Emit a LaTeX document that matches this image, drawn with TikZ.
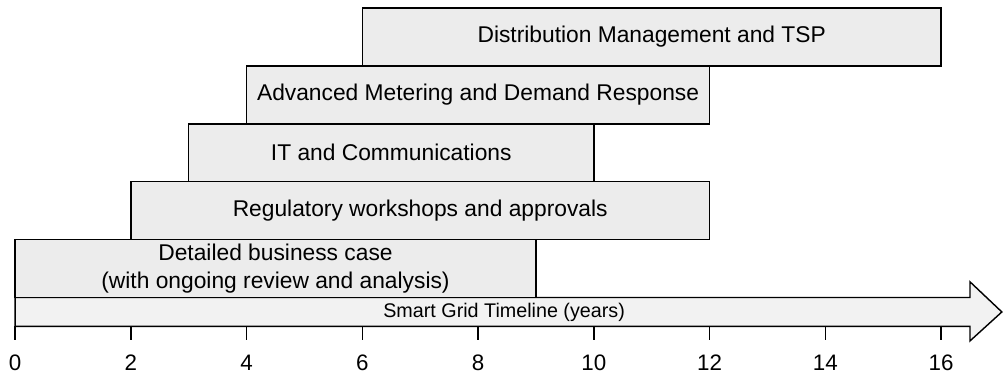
\documentclass[tikz,border=0pt]{standalone}
\usepackage{fontspec}
\setmainfont{Liberation Sans}
\tikzset{
	bar/.style={draw=black, fill=gray!15, line width=0.7pt, rectangle, minimum height=1cm, inner sep=0pt, font=\fontsize{11.2}{13.5}\selectfont, align=center},
	tick/.style={black, line width=0.7pt},
	year/.style={anchor=north, inner sep=0pt, yshift=-0.25cm, font=\fontsize{11}{13}\selectfont}
}
\begin{document}
\begin{tikzpicture}
		\useasboundingbox (-0.26,-0.8) rectangle (17.07,5.64);
		\filldraw[fill=gray!10, draw=black, line width=0.7pt] (0,0) -- (16.5,0) -- (16.5,-0.25) -- (17.05,0.25) -- (16.5,0.77) -- (16.5,0.5) -- (0,0.5) -- cycle;
		\node[font=\fontsize{9.7}{11}\selectfont] (timeline) at (8.45,0.25) {Smart Grid Timeline (years)};
		\node[bar, minimum width=9cm] (case) at (4.5,1) {Detailed business case\\(with ongoing review and analysis)};
		\node[bar, minimum width=10cm] (reg) at (7,2) {Regulatory workshops and approvals};
		\node[bar, minimum width=7cm] (it) at (6.5,3) {IT and Communications};
		\node[bar, minimum width=8cm] (ami) at (8,4) {Advanced Metering and Demand Response};
		\node[bar, minimum width=10cm] (dm) at (11,5) {Distribution Management and TSP};
		\draw[tick] (0,0) -- (0,-0.23) node[year]{0};
		\draw[tick] (2,0) -- (2,-0.23) node[year]{2};
		\draw[tick] (4,0) -- (4,-0.23) node[year]{4};
		\draw[tick] (6,0) -- (6,-0.23) node[year]{6};
		\draw[tick] (8,0) -- (8,-0.23) node[year]{8};
		\draw[tick] (10,0) -- (10,-0.23) node[year]{10};
		\draw[tick] (12,0) -- (12,-0.23) node[year]{12};
		\draw[tick] (14,0) -- (14,-0.23) node[year]{14};
		\draw[tick] (16,0) -- (16,-0.23) node[year]{16};
	\end{tikzpicture}
\end{document}
